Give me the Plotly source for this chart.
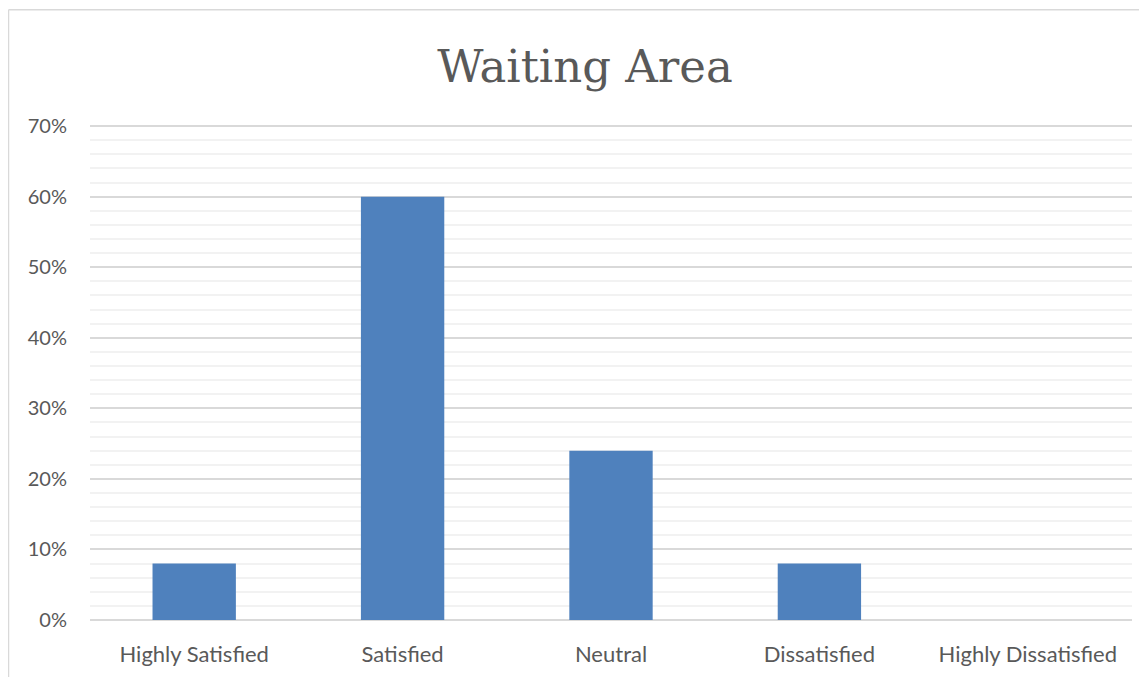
import plotly.graph_objects as go

categories = ["Highly Satisfied", "Satisfied", "Neutral", "Dissatisfied", "Highly Dissatisfied"]
values = [0.08, 0.60, 0.24, 0.08, 0.0]
title_text = "Waiting Area"

W, H = 1147, 677
OFF = 8  # default page body margin
# target page positions of plot area (y-range top slightly above the 70% line)
left, right, bottom = 90, 1132, 620
y70 = 126
ymax = 0.703
top = bottom - (bottom - y70) * ymax / 0.7
ml, mt = left - OFF, top - OFF
pw, ph = right - left, bottom - top
mr = W - ml - pw
mb = H - mt - ph

fig = go.Figure(go.Bar(x=categories, y=values, marker_color="#4F81BD", marker_line_width=0))

def px_x(p):
    return (p - left) / pw

def px_y(p):
    return 1 - (p - top) / ph

fig.update_layout(
    width=W, height=H,
    margin=dict(l=ml, r=mr, t=mt, b=mb),
    paper_bgcolor="white", plot_bgcolor="white",
    bargap=0.6,
    showlegend=False,
    title=dict(text=title_text, x=(585 - OFF) / W, xanchor="center", y=1 - (66 - OFF) / H, yanchor="middle",
               font=dict(family="DejaVu Serif", size=45, color="#595959")),
    font=dict(family="Lato", color="#595959", size=22),
    xaxis=dict(showgrid=False, showline=False, zeroline=False, ticks="", ticklabelstandoff=19,
               tickfont=dict(size=22, color="#595959")),
    yaxis=dict(range=[0, ymax], dtick=0.1, tickformat=".0%", showline=False, zeroline=True,
               zerolinecolor="#D9D9D9", zerolinewidth=1.5,
               gridcolor="#D9D9D9", gridwidth=1.5, ticks="", ticklabelstandoff=22,
               tickfont=dict(size=20, color="#595959"),
               minor=dict(dtick=0.02, showgrid=True, gridcolor="#F2F2F2", gridwidth=1.5)),
    shapes=[
        dict(type="line", xref="paper", yref="paper", x0=px_x(8.5), x1=px_x(8.5), y0=px_y(9.5), y1=px_y(690),
             line=dict(color="#D9D9D9", width=1.5)),
        dict(type="line", xref="paper", yref="paper", x0=px_x(8.5), x1=px_x(1160), y0=px_y(9.5), y1=px_y(9.5),
             line=dict(color="#D9D9D9", width=1.5)),
    ],
)

fig.write_html("out.html")
